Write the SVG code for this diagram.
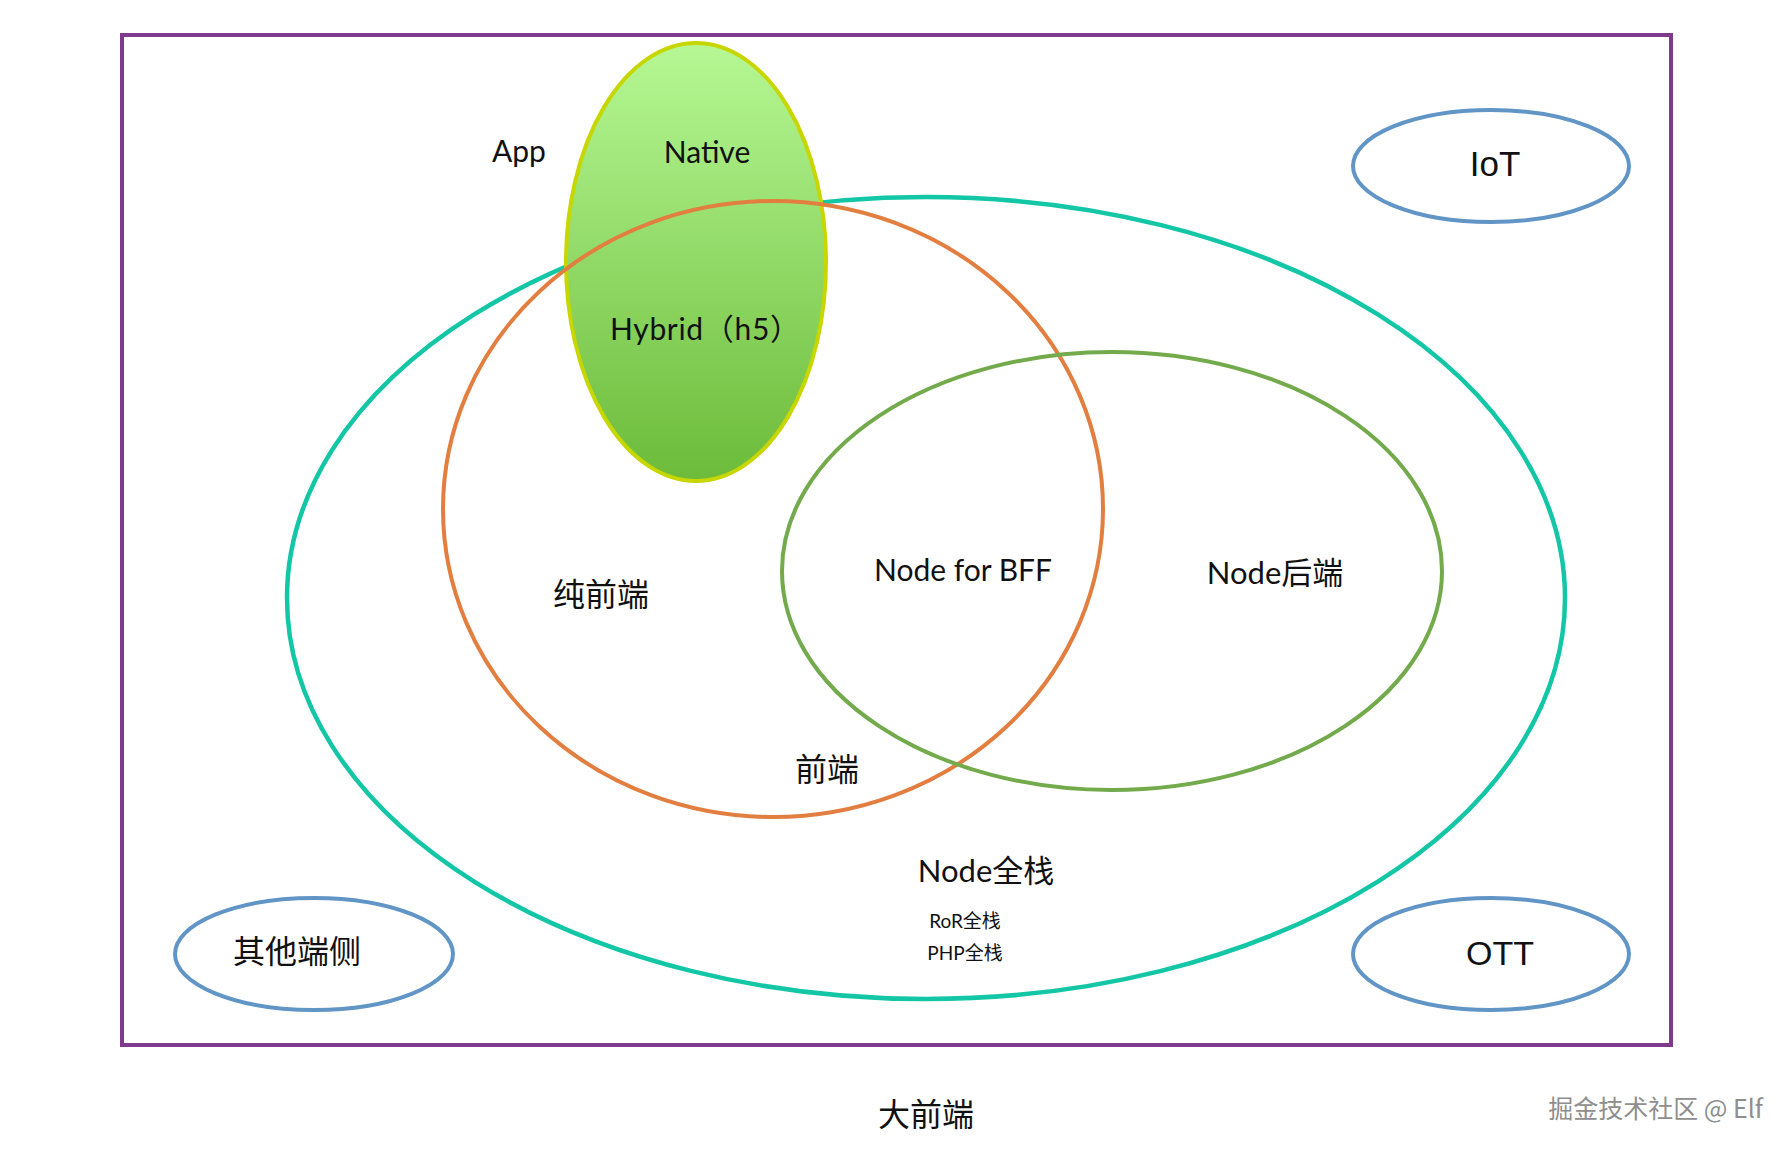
<svg xmlns="http://www.w3.org/2000/svg" width="1792" height="1150" viewBox="0 0 1792 1150">
<defs>
<linearGradient id="appGrad" x1="0" y1="0" x2="0" y2="1">
<stop offset="0" stop-color="#b6f894"/>
<stop offset="1" stop-color="#6cbb3a"/>
</linearGradient>
<style>
.lat{font-family:Lato,"Noto Sans CJK SC",sans-serif;fill:#111;text-anchor:middle}
.cjk{font-family:"Noto Sans CJK SC","Noto Sans",sans-serif;fill:#111;text-anchor:middle}
.ari{font-family:"Liberation Sans",Arial,sans-serif;fill:#111;text-anchor:middle}
.blue{fill:none;stroke:#6095c6;stroke-width:4}
</style>
</defs>
<rect width="1792" height="1150" fill="#ffffff"/>
<g id="frame">
<rect x="122" y="35" width="1549" height="1010" fill="none" stroke="#7e3a8c" stroke-width="4"/>
</g>
<g id="big-frontend">
<ellipse cx="926" cy="598" rx="639" ry="401" fill="none" stroke="#13c6a6" stroke-width="4.5"/>
<text class="lat" x="986" y="882" font-size="31">Node全栈</text>
<text class="lat" x="965" y="928" font-size="19">RoR全栈</text>
<text class="lat" x="965" y="960" font-size="19">PHP全栈</text>
</g>
<g id="app">
<ellipse cx="696" cy="262" rx="130" ry="219" fill="url(#appGrad)" stroke="#c8d600" stroke-width="4"/>
<text class="lat" x="519" y="162" font-size="30">App</text>
<text class="lat" x="707" y="163" font-size="30">Native</text>
<text class="lat" x="610" y="340" font-size="30" text-anchor="start" style="text-anchor:start" textLength="190">Hybrid（h5）</text>
</g>
<g id="frontend">
<ellipse cx="773" cy="509" rx="330" ry="308" fill="none" stroke="#e27f40" stroke-width="4"/>
<text class="cjk" x="601" y="606" font-size="32">纯前端</text>
<text class="cjk" x="827" y="781" font-size="32">前端</text>
</g>
<g id="node">
<ellipse cx="1112" cy="571" rx="330" ry="219" fill="none" stroke="#73aa4c" stroke-width="4"/>
<text class="lat" x="963" y="581" font-size="30">Node for BFF</text>
<text class="lat" x="1275" y="584" font-size="31">Node后端</text>
</g>
<g id="iot">
<ellipse class="blue" cx="1491" cy="166" rx="138" ry="56"/>
<text class="ari" x="1495" y="176" font-size="35">IoT</text>
</g>
<g id="ott">
<ellipse class="blue" cx="1491" cy="954" rx="138" ry="56"/>
<text class="ari" x="1500" y="965" font-size="34">OTT</text>
</g>
<g id="other">
<ellipse class="blue" cx="314" cy="954" rx="139" ry="56"/>
<text class="cjk" x="297" y="963" font-size="32">其他端侧</text>
</g>
<g id="connectors"></g>
<g id="title">
<text class="cjk" x="926" y="1126" font-size="32">大前端</text>
</g>
<g id="watermark">
<text x="1763" y="1118" font-size="25" text-anchor="end" font-family="'Noto Sans CJK SC','Liberation Sans',sans-serif" fill="#8e8e8e">掘金技术社区 @ Elf</text>
</g>
</svg>
